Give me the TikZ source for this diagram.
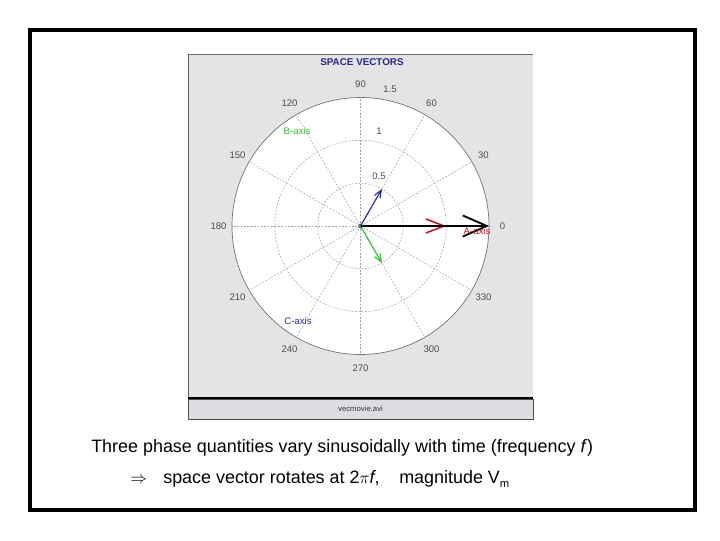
\documentclass[tikz,border=0pt]{standalone}
\usepackage{fontspec}
\setmainfont{Liberation Sans}
\usetikzlibrary{arrows.meta}
\definecolor{scrgray}{RGB}{228,228,230}
\definecolor{bargray}{RGB}{220,220,226}
\definecolor{titleblue}{RGB}{40,40,140}
\definecolor{vred}{RGB}{190,20,40}
\definecolor{vblue}{RGB}{40,40,170}
\definecolor{vgreen}{RGB}{50,190,50}

\begin{document}
\begin{tikzpicture}[x=0.025cm,y=0.025cm,
    grid/.style={gray!75, line width=0.4pt, dash pattern=on 1.2pt off 1.2pt},
    ticklbl/.style={font=\fontsize{6.8}{7}\selectfont, text=black!70, inner sep=0pt},
    axlbl/.style={font=\fontsize{6.8}{7}\selectfont, inner sep=0pt},
    vec/.style={line width=0.8pt, -{Straight Barb[length=5.5pt,width=4.5pt]}},
    caption/.style={font=\fontsize{12.75}{15}\selectfont, anchor=base west, inner sep=0pt}
]
\useasboundingbox (0,0) rectangle (720,540);
\draw[line width=2.9pt] (30,30.3) rectangle (695.3,509.7);

\fill[scrgray] (188,121) rectangle (533,486);
\draw[black!60] (188,121) -- (188,486) -- (533,486);
\draw[black!70, fill=bargray] (188,121) rectangle (533,141);
\draw[line width=1.5pt] (188,142) -- (533,142);
\node[font=\fontsize{5.5}{6}\selectfont, text=black!80] (fname) at (360.5,131) {vecmovie.avi};
\node[font=\bfseries\fontsize{7}{8}\selectfont, text=titleblue] (title) at (362,478) {SPACE VECTORS};

\begin{scope}[shift={(360.5,314)}]
\fill[white] (0,0) circle[radius=128.5];
\foreach \a in {0,30,...,330}
    \draw[grid] (0,0) -- (\a:128.5);
\draw[grid] (0,0) circle[radius=42.8] (0,0) circle[radius=85.7];
\draw[black!55, line width=0.5pt] (0,0) circle[radius=128.5];
\foreach \a in {0,30,...,330}
    \node[ticklbl] (deg\a) at (\a:142) {\a};
\node[ticklbl] (r05) at (18.5,50) {0.5};
\node[ticklbl] (r1) at (18.5,95) {1};
\node[ticklbl] (r15) at (29.5,137) {1.5};

\coordinate (o) at (0,0);
\coordinate (va) at (0:85.7);
\coordinate (vb) at (-60:42.8);
\coordinate (vc) at (60:42.8);
\coordinate (vs) at (0:128.5);
\draw[vec, vred, line width=1.1pt, -{Straight Barb[length=13pt,width=10pt]}] (o) -- (va);
\draw[vec, vblue] (o) -- (vc);
\draw[vec, vgreen] (o) -- (vb);
\draw[vec, black, line width=1.3pt, -{Straight Barb[length=17pt,width=15pt]}] (o) -- (vs);
\draw[teal!50!black, line width=0.4pt] (o) circle[radius=2];

\node[axlbl, text=vgreen] (baxis) at (-63.5,95) {B-axis};
\node[axlbl, text=vred] (aaxis) at (116.5,-5) {A-axis};
\node[axlbl, text=vblue] (caxis) at (-62.5,-95) {C-axis};
\end{scope}

\node[caption] (line1) at (91,88) {Three phase quantities vary sinusoidally with time (frequency \textit{f})};
\node[caption] (line2) at (130,57) {$\Rightarrow$\hspace{0.9em}space vector rotates at 2$\pi$\textit{f},\hspace{1.1em}magnitude V\raisebox{-0.5ex}{\footnotesize m}};
\end{tikzpicture}
\end{document}
